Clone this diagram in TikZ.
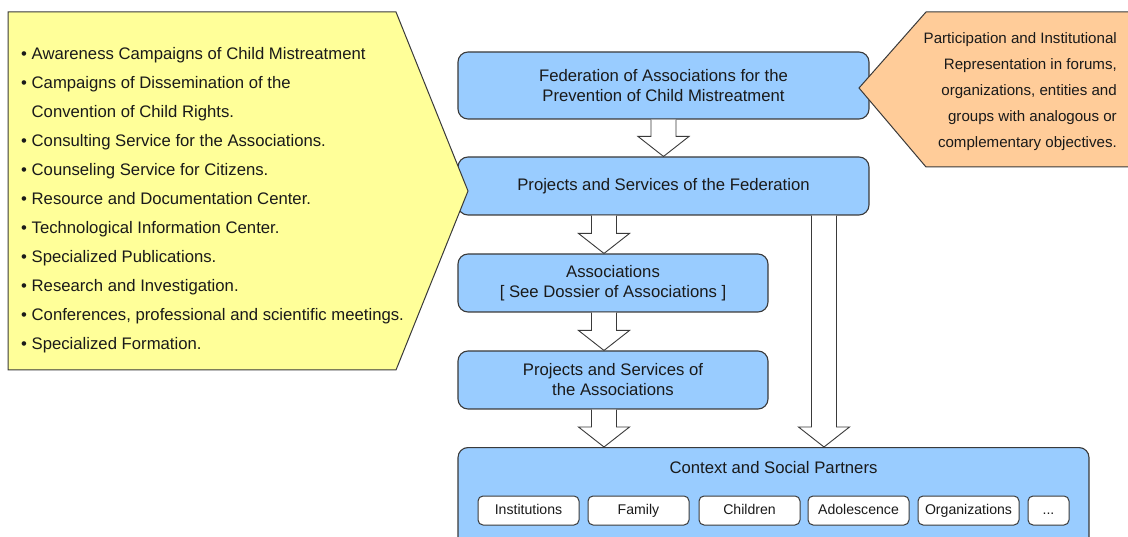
\documentclass[tikz,border=0pt]{standalone}
\usepackage{fontspec}
\setmainfont{Liberation Sans}
\usetikzlibrary{calc}
\definecolor{bluefill}{HTML}{99CCFF}
\definecolor{yellowfill}{HTML}{FFFF99}
\definecolor{orangefill}{HTML}{FFCC99}
\definecolor{edge}{HTML}{3A3A3A}
\definecolor{ink}{HTML}{1A1A1A}
\newcommand\barr[2]{\draw[barrow] let \p1=(#1), \p2=(#2) in
  (\x1-12.5pt,\y1) -- (\x1-12.5pt,\y2+20pt) -- (\x1-25.5pt,\y2+20pt) -- (\x1,\y2)
  -- (\x1+25.5pt,\y2+20pt) -- (\x1+12.5pt,\y2+20pt) -- (\x1+12.5pt,\y1);}
\begin{document}
\begin{tikzpicture}[x=1pt,y=-1pt,
 bluebox/.style={draw=edge, fill=bluefill, line width=1.1pt, rounded corners=10pt, align=center, text=ink, font=\fontsize{16.7}{20}\selectfont, inner sep=0pt},
 chip/.style={draw=edge, fill=white, line width=1pt, rounded corners=5pt, minimum height=29pt, text=ink, font=\fontsize{14.1}{16}\selectfont, inner sep=0pt, text height=10pt, text depth=3pt},
 barrow/.style={draw=edge, fill=white, line width=0.9pt},
 callout/.style={draw=edge, line width=1pt},
 plain/.style={text=ink, inner sep=0pt},
]
\clip (0,0) rectangle (1128,537);
% blue boxes
\node[bluebox, minimum width=411pt, minimum height=67pt] (fed) at (663.5,85.5) {Federation of Associations for the\\Prevention of Child Mistreatment};
\node[bluebox, minimum width=411pt, minimum height=58pt] (projfed) at (663.5,186) {Projects and Services of the Federation};
\node[bluebox, minimum width=310pt, minimum height=58pt] (assoc) at (613,283) {Associations\\{[} See Dossier of Associations {]}};
\node[bluebox, minimum width=310pt, minimum height=58pt] (projassoc) at (613,380) {Projects and Services of\\the Associations};
\node[bluebox, minimum width=631pt, minimum height=110pt, anchor=north] (ctx) at (773.5,447) {};
\node[plain, font=\fontsize{16.7}{20}\selectfont] (ctxtitle) at (773.5,468) {Context and Social Partners};
% chips
\node[chip, minimum width=101pt] (inst) at (528.5,510.5) {Institutions};
\node[chip, minimum width=101pt] (fam) at (638.5,510.5) {Family};
\node[chip, minimum width=101pt] (child) at (749.5,510.5) {Children};
\node[chip, minimum width=101pt] (adol) at (858.5,510.5) {Adolescence};
\node[chip, minimum width=101pt] (org) at (968.5,510.5) {Organizations};
\node[chip, minimum width=41pt] (dots) at (1048.5,510.5) {...};
% block arrows
\barr{fed.south}{projfed.north}
\barr{$(projfed.south)+(-59.5,0)$}{assoc.north}
\barr{$(assoc.south)+(-9,0)$}{projassoc.north}
\barr{$(projassoc.south)+(-9,0)$}{ctx.north}
\barr{$(projfed.south)+(160.5,0)$}{ctx.north}
% callouts
\draw[callout, fill=yellowfill] (8,12) -- (396,12) -- (468,191) -- (396,370) -- (8,370) -- cycle;
\draw[callout, fill=orangefill] (926,12) -- (1140,12) -- (1140,167) -- (926,167) -- (859,88) -- cycle;
\node[plain, anchor=west, align=left, font=\fontsize{16.7}{29}\selectfont] (list) at (21,200) {%
• Awareness Campaigns of Child Mistreatment\\
• Campaigns of Dissemination of the\\
\hphantom{• }Convention of Child Rights.\\
• Consulting Service for the Associations.\\
• Counseling Service for Citizens.\\
• Resource and Documentation Center.\\
• Technological Information Center.\\
• Specialized Publications.\\
• Research and Investigation.\\
• Conferences, professional and scientific meetings.\\
• Specialized Formation.};
\node[plain, anchor=east, align=right, font=\fontsize{15.1}{26}\selectfont] (partic) at (1117,92) {%
Participation and Institutional\\
Representation in forums,\\
organizations, entities and\\
groups with analogous or\\
complementary objectives.};
\end{tikzpicture}
\end{document}
